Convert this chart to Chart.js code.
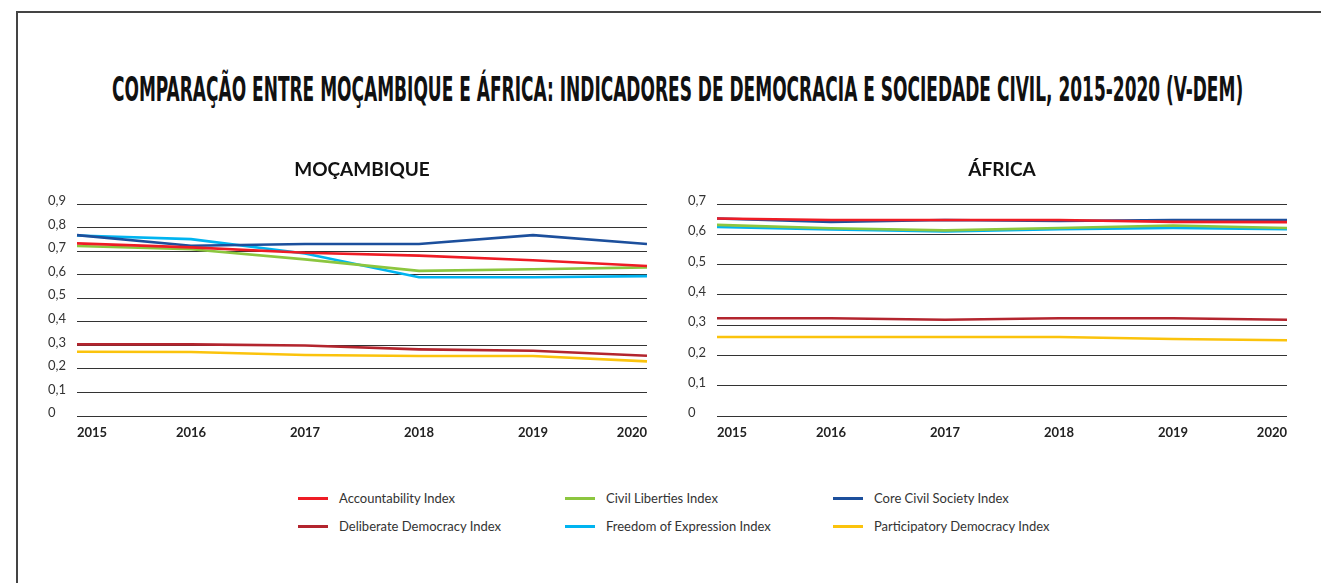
<!DOCTYPE html>
<html>
<head>
<meta charset="utf-8">
<script src="https://cdn.jsdelivr.net/npm/chart.js@4"></script>
<style>
  html, body { margin: 0; padding: 0; background: #fff; }
  body { width: 1321px; height: 583px; position: relative; overflow: hidden; font-family: Lato, sans-serif; }
  #frame { position: absolute; left: 16px; top: 11px; width: 1320px; height: 600px;
    border-top: 2px solid #444; border-left: 2px solid #444; }
  #title { position: absolute; left: 112px; top: 71px; white-space: nowrap; transform-origin: 0 50%;
    font-family: "DejaVu Sans Condensed", "DejaVu Sans", sans-serif; font-weight: bold; font-size: 33px;
    line-height: 38px; color: #111; }
  canvas { position: absolute; top: 150px; }
  #legend { position: absolute; left: 298px; top: 484px; display: grid;
    grid-template-columns: 267px 268px 268px; grid-auto-rows: 28px; font-size: 13px; color: #333; }
  #legend div { display: flex; align-items: center; white-space: nowrap; }
  #legend span.sw { display: inline-block; width: 30px; height: 3px; margin-right: 11px; }
</style>
</head>
<body>
<div id="frame"></div>
<div id="title">COMPARAÇÃO ENTRE MOÇAMBIQUE E ÁFRICA: INDICADORES DE DEMOCRACIA E SOCIEDADE CIVIL, 2015-2020 (V-DEM)</div>
<canvas id="moz" width="628" height="300" style="left:48px"></canvas>
<canvas id="afr" width="628" height="300" style="left:688px"></canvas>
<div id="legend"></div>

<script>
// years on the x axis
const years = ['2015', '2016', '2017', '2018', '2019', '2020'];

const seriesNames = [
  'Accountability Index', 'Civil Liberties Index', 'Core Civil Society Index',
  'Deliberate Democracy Index', 'Freedom of Expression Index', 'Participatory Democracy Index'
];
const seriesColors = ['#ee1c25', '#8cc63f', '#1c4f9c', '#b3252e', '#00b4f0', '#fbc30c'];

// Moçambique values
const mozAccountability = [0.733, 0.716, 0.693, 0.681, 0.661, 0.637];
const mozCivilLiberties = [0.722, 0.708, 0.665, 0.616, 0.623, 0.631];
const mozCoreCivil = [0.768, 0.723, 0.730, 0.730, 0.768, 0.730];
const mozDeliberate = [0.304, 0.304, 0.299, 0.283, 0.277, 0.256];
const mozFreedom = [0.766, 0.751, 0.690, 0.589, 0.589, 0.594];
const mozParticipatory = [0.273, 0.272, 0.259, 0.255, 0.255, 0.232];

// Africa values
const afrAccountability = [0.652, 0.647, 0.647, 0.647, 0.641, 0.640];
const afrCivilLiberties = [0.631, 0.620, 0.613, 0.621, 0.629, 0.621];
const afrCoreCivil = [0.652, 0.641, 0.647, 0.644, 0.647, 0.647];
const afrDeliberate = [0.323, 0.323, 0.318, 0.323, 0.323, 0.318];
const afrFreedom = [0.624, 0.616, 0.609, 0.617, 0.621, 0.617];
const afrParticipatory = [0.261, 0.261, 0.261, 0.261, 0.254, 0.250];

const mozSeries = [mozAccountability, mozCivilLiberties, mozCoreCivil, mozDeliberate, mozFreedom, mozParticipatory];
const afrSeries = [afrAccountability, afrCivilLiberties, afrCoreCivil, afrDeliberate, afrFreedom, afrParticipatory];

// squeeze the main title to the width it has in the picture
const titleEl = document.getElementById('title');
titleEl.style.transform = 'scaleX(' + (1131 / titleEl.offsetWidth) + ')';

// legend
const legend = document.getElementById('legend');
seriesNames.forEach((name, i) => {
  const item = document.createElement('div');
  item.innerHTML = `<span class="sw" style="background:${seriesColors[i]}"></span>${name}`;
  legend.appendChild(item);
});

function fmt(v) {
  const r = Math.round(v * 10) / 10;
  return r === 0 ? '0' : r.toFixed(1).replace('.', ',');
}

function makeChart(id, title, series, maxY) {
  return new Chart(document.getElementById(id), {
    type: 'line',
    data: {
      labels: years,
      datasets: series.map((vals, i) => ({
        label: seriesNames[i],
        data: vals,
        borderColor: seriesColors[i],
        backgroundColor: seriesColors[i],
        borderWidth: 2.6,
        pointRadius: 0,
        tension: 0
      }))
    },
    options: {
      responsive: false,
      animation: false,
      layout: { padding: { left: 0, right: 0, top: 0, bottom: 6 } },
      plugins: {
        legend: { display: false },
        tooltip: { enabled: false },
        title: {
          display: true,
          text: title,
          color: '#111',
          font: { family: 'Lato', size: 19, weight: 'bold', lineHeight: 1.2 },
          padding: { top: 8, bottom: 23.2 }
        }
      },
      scales: {
        x: {
          grid: { display: false, drawTicks: false },
          border: { display: false },
          afterFit: s => { s.height = 28; },
          ticks: {
            align: 'inner',
            maxRotation: 0,
            padding: 9,
            color: '#222',
            font: { family: 'Lato', size: 13, weight: 'bold' }
          }
        },
        y: {
          min: 0,
          max: maxY,
          border: { display: false },
          afterFit: s => { s.width = 29; },
          grid: { color: '#333', lineWidth: 1, drawTicks: false },
          ticks: {
            stepSize: 0.1,
            crossAlign: 'far',
            padding: 8,
            labelOffset: -3,
            color: '#333',
            font: { family: 'Lato', size: 13 },
            callback: v => fmt(v)
          }
        },
        // empty axis on the right so the plot keeps the same margin on both sides of the title
        yRight: {
          position: 'right',
          grid: { display: false },
          border: { display: false },
          ticks: { display: false },
          afterFit: s => { s.width = 29; }
        }
      }
    }
  });
}

makeChart('moz', 'MOÇAMBIQUE', mozSeries, 0.9);
makeChart('afr', 'ÁFRICA', afrSeries, 0.7);
</script>
</body>
</html>
